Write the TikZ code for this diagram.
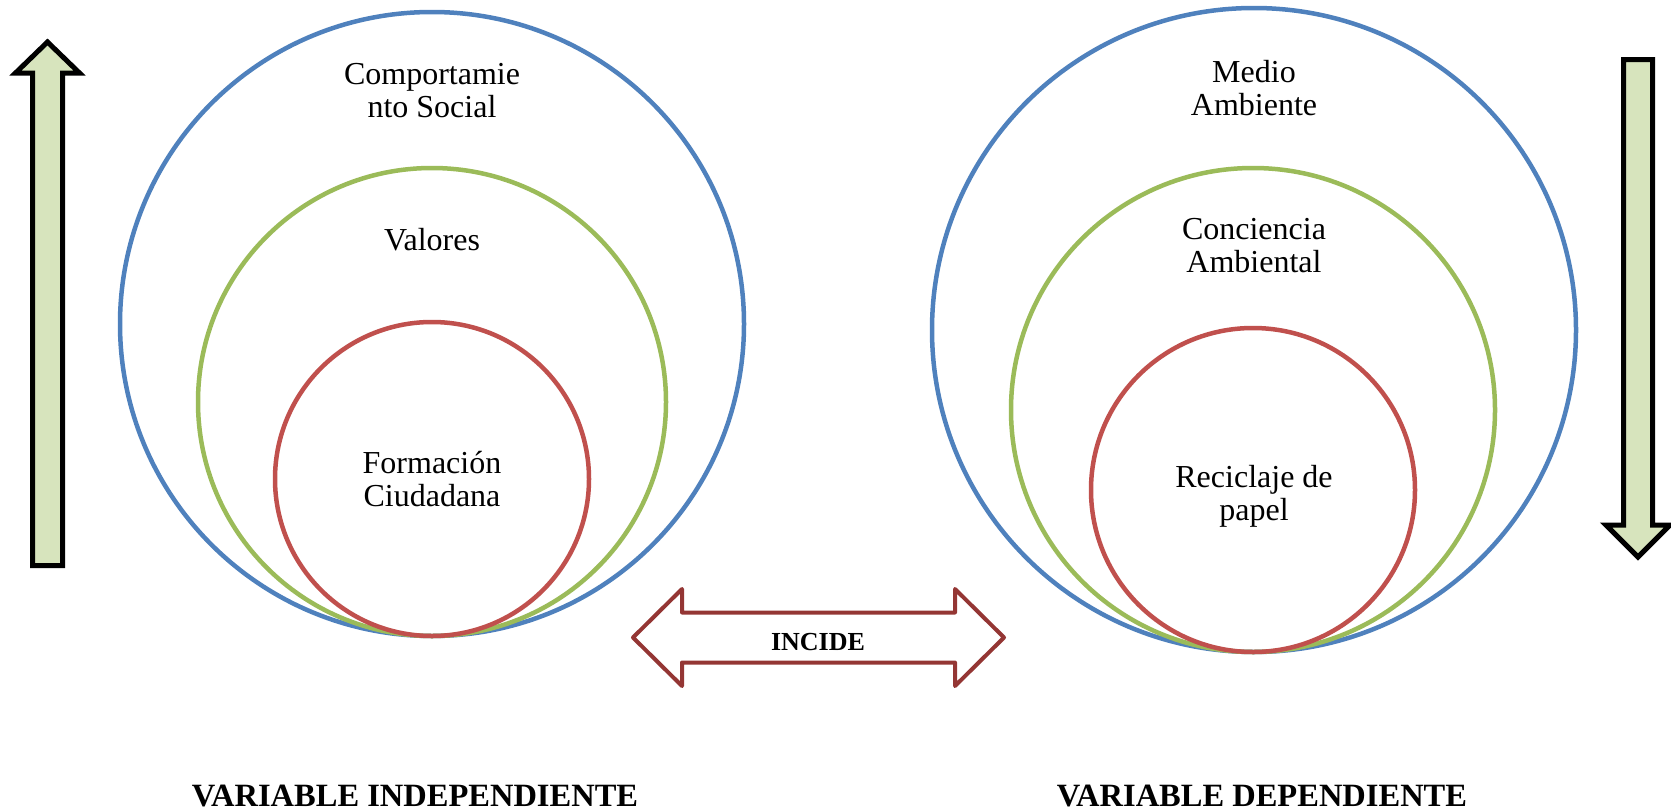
\documentclass[tikz,border=0pt]{standalone}
\usepackage{fontspec}
\setmainfont{Liberation Serif}
\definecolor{cblue}{HTML}{4F81BD}
\definecolor{cgreen}{HTML}{9BBB59}
\definecolor{cred}{HTML}{C0504D}
\definecolor{arrowred}{HTML}{943634}
\definecolor{arrowfill}{HTML}{D7E4BD}
\newcommand{\twoline}[2]{\vtop{\halign{\hfil##\hfil\cr #1\cr #2\cr}}}
\begin{document}
\begin{tikzpicture}[x=1pt,y=-1pt,
  circ/.style={line width=4.5pt},
  lbl/.style={font=\fontsize{32}{33}\selectfont, inner sep=0pt, anchor=base},
  varlbl/.style={font=\fontsize{32.5}{36}\selectfont\bfseries, inner sep=0pt, anchor=base},
  bigarrow/.style={draw=black, fill=arrowfill, line width=5pt, miter limit=10},
  incarrow/.style={draw=arrowred, line width=4pt, line join=round}]
\useasboundingbox (0,0) rectangle (1671,811);
% left circles
\draw[circ, cblue] (432,324) circle (312);
\draw[circ, cgreen] (432,402) circle (234);
\draw[circ, cred] (432,479) circle (157);
% right circles
\draw[circ, cblue] (1254,330) circle (322);
\draw[circ, cgreen] (1253,410) circle (242);
\draw[circ, cred] (1253,490) circle (162);
% texts
\node[lbl] (cs) at (432,84) {\twoline{Comportamie}{nto Social}};
\node[lbl] (val) at (432,250) {Valores};
\node[lbl] (fc) at (432,473) {\twoline{Formación}{Ciudadana}};
\node[lbl] (ma) at (1254,82) {\twoline{Medio}{Ambiente}};
\node[lbl] (ca) at (1254,239) {\twoline{Conciencia}{Ambiental}};
\node[lbl] (rp) at (1254,487) {\twoline{Reciclaje de}{papel}};
% up arrow (left)
\draw[bigarrow] (32.5,565.5) -- (32.5,73) -- (15.5,73) -- (47.5,42) -- (79.5,73) -- (62.5,73) -- (62.5,565.5) -- cycle;
% down arrow (right)
\draw[bigarrow] (1623.5,59.5) -- (1652.5,59.5) -- (1652.5,525) -- (1670,525) -- (1638,557) -- (1606,525) -- (1623.5,525) -- cycle;
% INCIDE double arrow
\draw[incarrow] (633,637.5) -- (682,589) -- (682,612.5) -- (955,612.5) -- (955,589) -- (1004,637.5) -- (955,686) -- (955,662.5) -- (682,662.5) -- (682,686) -- cycle;
\node[font=\fontsize{26}{30}\selectfont\bfseries, inner sep=0pt, anchor=base] (inc) at (818,650) {INCIDE};
% variable labels
\node[varlbl] (vi) at (415,806) {VARIABLE INDEPENDIENTE};
\node[varlbl] (vd) at (1262,806) {VARIABLE DEPENDIENTE};
\end{tikzpicture}
\end{document}
